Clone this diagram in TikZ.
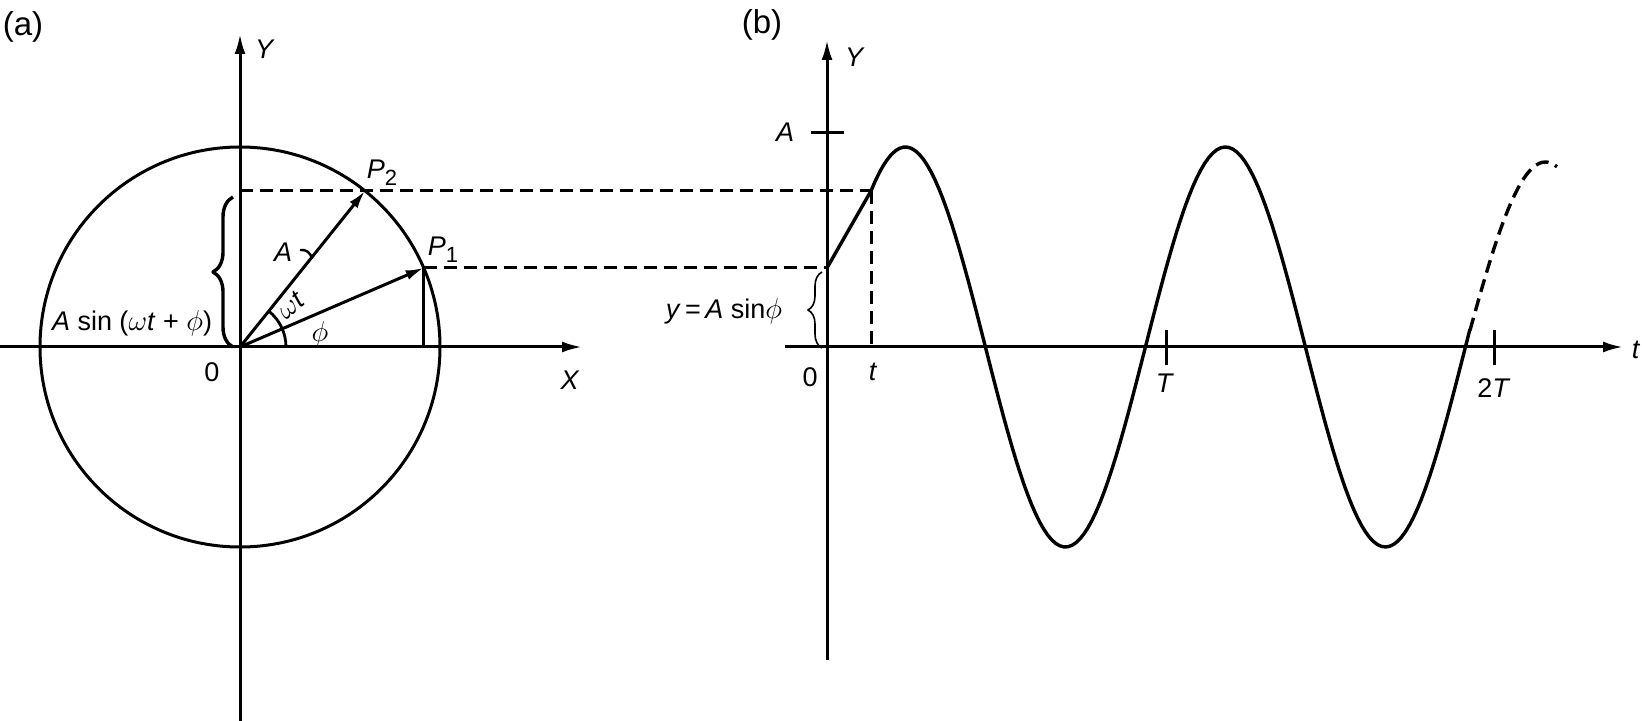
\documentclass[tikz,border=0pt]{standalone}
\usepackage{fontspec}
\setmainfont{Liberation Sans}
\usetikzlibrary{arrows.meta,decorations.pathreplacing}

\tikzset{
  axisline/.style={line width=1.5pt,-{Latex[length=10pt,width=5.5pt]}},
  vecline/.style={line width=1.5pt,-{Latex[length=9pt,width=5pt]}},
  guideline/.style={line width=1.5pt,dash pattern=on 6.5pt off 3.5pt},
  waveline/.style={line width=1.7pt},
  lbl/.style={font=\fontsize{13.5}{16}\selectfont,inner sep=0pt},
  panel/.style={font=\fontsize{16.5}{18}\selectfont,inner sep=0pt},
}
\newcommand{\iv}[1]{\textit{#1}}
\newcommand{\sbs}[1]{\raisebox{-0.5ex}{\fontsize{11}{12}\selectfont #1}}

\begin{document}
\begin{tikzpicture}[x=0.5pt,y=-0.5pt,line join=round]
\useasboundingbox (0,0) rectangle (1642,721);

\coordinate (O) at (240,347);
\coordinate (P1) at (423.7,267.9);
\coordinate (P2) at (365.0,190.9);
\coordinate (Ob) at (827,347);
\coordinate (Q1) at (827,267.9);
\coordinate (Q2) at (871,190.9);

\draw[line width=1.5pt] (O) circle[radius=100pt];
\draw[axisline] (0,347) -- (582,347);
\draw[axisline] (240,721) -- (240,34);
\draw[line width=1.5pt] (P1) -- (P1 |- O);
\draw[vecline] (O) -- (P1);
\draw[vecline] (O) -- (P2);
\draw[line width=1.4pt] (286,347) arc[start angle=0,end angle=51.3,radius=23pt];
\draw[line width=1.2pt] (300,250) .. controls (306,249) and (311,253) .. (312,259);
\draw[line width=1.7pt,decorate,decoration={brace,amplitude=10pt}] (233,347) -- (233,197);
\draw[guideline] (O |- P2) -- (Q2);
\draw[guideline] (P1) -- (Q1);

\node[panel] (la) at (23,27) {(a)};
\node[lbl] (ya) at (265,49) {\iv{Y}};
\node[lbl] (xa) at (570,380) {\iv{X}};
\node[lbl] (oa) at (212,372) {0};
\node[lbl] (ptwo) at (382,173) {\iv{P}\sbs{2}};
\node[lbl] (pone) at (443,250) {\iv{P}\sbs{1}};
\node[lbl] (amp) at (283,252) {\iv{A}};
\node[lbl,rotate=40] (wt) at (291,305) {$\omega$\iv{t}};
\node[lbl] (phi) at (320,334) {$\phi$};
\node[lbl] (asum) at (132,323) {\iv{A} sin ($\omega$\iv{t} + $\phi$)};

\draw[axisline] (785,347) -- (1623,347);
\draw[axisline] (827,660) -- (827,40);
\draw[line width=1.5pt] (811,133) -- (844,133);
\draw[line width=1.5pt] (1166,330) -- (1166,365);
\draw[line width=1.5pt] (1494,330) -- (1494,365);
\draw[guideline] (Q2) -- (Q2 |- Ob);
\draw[line width=0.8pt,decorate,decoration={brace,amplitude=7pt}] (822,348) -- (822,272);
\draw[waveline] (Q1) -- (Q2) -- plot[domain=871:1470,samples=150] (\x,{347+200*sin((\x-985.4)*1.125)});
\draw[waveline,dash pattern=on 6.5pt off 3.5pt] plot[domain=1470:1557,samples=30] (\x,{347-185*sin((\x-1465.4)*1.125)});

\node[panel] (lb) at (762,25) {(b)};
\node[lbl] (yb) at (855,57) {\iv{Y}};
\node[lbl] (ab) at (785,132) {\iv{A}};
\node[lbl] (ob) at (810,377) {0};
\node[lbl] (tb) at (873,372) {\iv{t}};
\node[lbl] (tT) at (1165,383) {\iv{T}};
\node[lbl] (t2T) at (1494,388) {2\iv{T}};
\node[lbl] (taxis) at (1636,350) {\iv{t}};
\node[lbl] (asinphi) at (724,311) {\iv{y}\,=\,\iv{A} sin$\phi$};
\end{tikzpicture}
\end{document}
